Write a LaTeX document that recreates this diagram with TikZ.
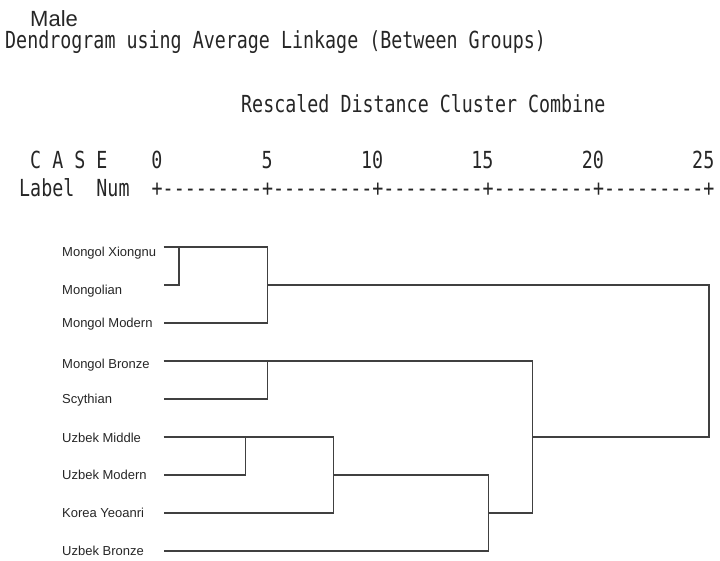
\documentclass[tikz,border=0pt]{standalone}
\usepackage{fontspec}
\setmainfont{Liberation Sans}
\newfontfamily\spssfont[FakeStretch=0.78]{DejaVu Sans Mono}
\newcommand{\axisgap}{\kern0pt-\kern0pt-\kern0pt-\kern0pt-\kern0pt-\kern0pt-\kern0pt-\kern0pt-\kern0pt-\kern0pt}
\usepackage{tikz}

\begin{document}
\begin{tikzpicture}[x=1pt, y=-1pt,
    every node/.style={inner sep=0pt, text=black!85},
    spss/.style={font=\spssfont\fontsize{23.5}{28}\selectfont, anchor=base west},
    leaflabel/.style={font=\fontsize{13}{15}\selectfont, anchor=west, text height=9.3pt, text depth=0pt},
    dline/.style={draw=black!75, line width=1.3pt}]
  \useasboundingbox (0,0) rectangle (720,560);

  \node[font=\fontsize{22}{26}\selectfont, anchor=base west] (male) at (30,26) {Male};
  \node[spss] (title) at (5,48) {Dendrogram using Average Linkage (Between Groups)};
  \node[spss] (rescaled) at (241,112) {Rescaled Distance Cluster Combine};
  \node[spss] (case) at (30,168) {C~A~S~E};
  \node[spss] (labelnum) at (19,196) {Label~~Num};
  \node[spss] (axis) at (151.5,196) {+\axisgap+\axisgap+\axisgap+\axisgap+\axisgap+};

  \foreach \v in {0,5,...,25}
    \node[spss, anchor=base east] (num\v) at ({162.5+22.08*\v},168) {\v};

  \node[leaflabel] (xiongnu) at (62,252) {Mongol Xiongnu};
  \node[leaflabel] (mongolian) at (62,290) {Mongolian};
  \node[leaflabel] (mmodern) at (62,323) {Mongol Modern};
  \node[leaflabel] (mbronze) at (62,364) {Mongol Bronze};
  \node[leaflabel] (scythian) at (62,399) {Scythian};
  \node[leaflabel] (umiddle) at (62,438) {Uzbek Middle};
  \node[leaflabel] (umodern) at (62,475) {Uzbek Modern};
  \node[leaflabel] (korea) at (62,513) {Korea Yeoanri};
  \node[leaflabel] (ubronze) at (62,551) {Uzbek Bronze};

  \begin{scope}[shift={(157,0)}, x=22.08pt]
    \coordinate (l1) at (0.3,247);
    \coordinate (l2) at (0.3,285);
    \coordinate (l3) at (0.3,323);
    \coordinate (l4) at (0.3,361);
    \coordinate (l5) at (0.3,399);
    \coordinate (l6) at (0.3,437);
    \coordinate (l7) at (0.3,475);
    \coordinate (l8) at (0.3,513);
    \coordinate (l9) at (0.3,551);

    \coordinate (m1) at (1,247);
    \coordinate (m2) at (5,285);
    \coordinate (m3) at (5,361);
    \coordinate (m4) at (4,437);
    \coordinate (m5) at (8,475);
    \coordinate (m6) at (15,513);
    \coordinate (m7) at (17,437);
    \coordinate (m8) at (25,361);
  \end{scope}

  \draw[dline] (l1) -- (m1 |- l1) -- (m1 |- l2) -- (l2);
  \draw[dline] (m1) -- (m2 |- m1) -- (m2 |- l3) -- (l3);
  \draw[dline] (l4) -- (m3 |- l4) -- (m3 |- l5) -- (l5);
  \draw[dline] (l6) -- (m4 |- l6) -- (m4 |- l7) -- (l7);
  \draw[dline] (m4) -- (m5 |- m4) -- (m5 |- l8) -- (l8);
  \draw[dline] (m5) -- (m6 |- m5) -- (m6 |- l9) -- (l9);
  \draw[dline] (m3) -- (m7 |- m3) -- (m7 |- m6) -- (m6);
  \draw[dline] (m2) -- (m8 |- m2) -- (m8 |- m7) -- (m7);
\end{tikzpicture}
\end{document}
